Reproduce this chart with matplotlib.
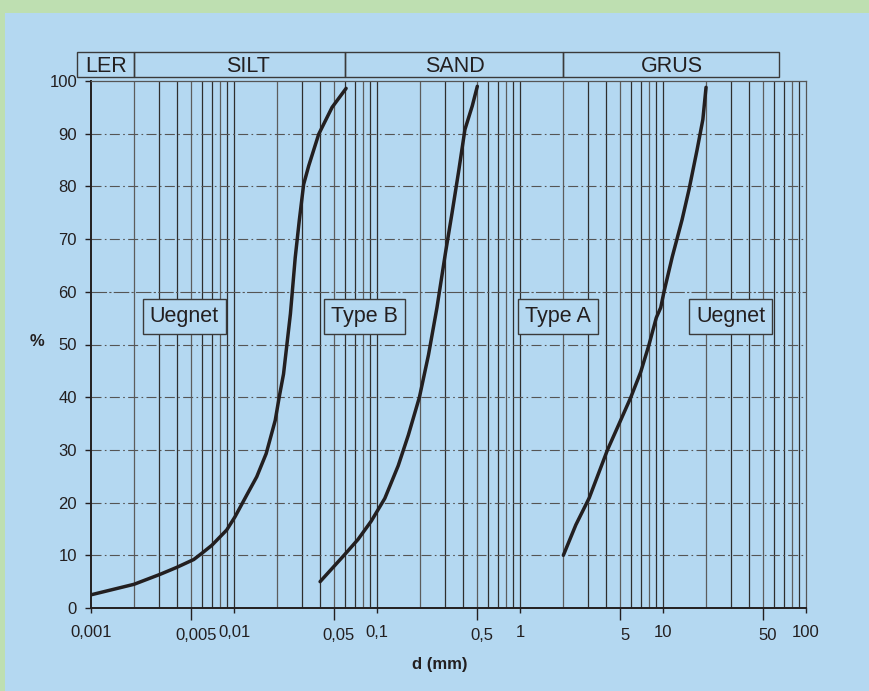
import matplotlib
matplotlib.use("Agg")
import matplotlib.pyplot as plt
from matplotlib.patches import Rectangle
from matplotlib.transforms import ScaledTranslation, blended_transform_factory

plt.rcParams['font.family'] = ['Liberation Sans', 'DejaVu Sans']

# grain size curves, d in mm, passing in %
d_fine = [0.001, 0.002, 0.00305, 0.00397, 0.00523, 0.00597, 0.0070, 0.00889, 0.01016,
          0.01226, 0.01442, 0.01679, 0.01942, 0.0207, 0.0222, 0.0248, 0.0268, 0.0286,
          0.0307, 0.0333, 0.0391, 0.0485, 0.0608]
p_fine = [2.5, 4.5, 6.4, 7.7, 9.2, 10.4, 11.9, 14.8, 17.3, 21.4, 24.9, 29.3, 35.6, 40.0,
          44.4, 55.8, 66.5, 73.5, 80.4, 83.9, 89.9, 95.0, 98.6]

d_mid = [0.04, 0.0588, 0.0736, 0.0912, 0.1134, 0.1407, 0.1656, 0.198, 0.229, 0.2626,
         0.3008, 0.335, 0.3735, 0.412, 0.464, 0.503]
p_mid = [5.0, 10.0, 13.0, 16.5, 20.8, 27.0, 32.8, 40.0, 48.0, 57.0, 67.3, 75.0, 83.1,
         90.8, 95.3, 99.0]

d_coarse = [2.01, 2.46, 3.05, 4.09, 4.94, 5.96, 6.99, 7.99, 8.98, 9.64, 10.16, 11.6,
            13.6, 15.2, 17.3, 19.0, 20.0]
p_coarse = [10.0, 15.8, 20.9, 30.0, 35.0, 40.0, 44.8, 50.0, 55.1, 57.0, 60.0, 66.6,
            73.7, 79.4, 86.9, 92.7, 98.8]

# zone labels in the plot
zone_names = ['Uegnet', 'Type B', 'Type A', 'Uegnet']
zone_x = [0.0045, 0.082, 1.85, 29.8]
zone_y = 55.3

# soil classes above the plot
class_names = ['LER', 'SILT', 'SAND', 'GRUS']
class_edges = [0.0008, 0.002, 0.06, 2, 65]
class_text_x = [0.00127, 0.0125, 0.35, 11.5]

dec_ticks = [0.001, 0.01, 0.1, 1, 10, 100]
dec_labels = ['0,001', '0,01', '0,1', '1', '10', '100']
five_ticks = [0.005, 0.05, 0.5, 5, 50]
five_labels = ['0,005', '0,05', '0,5', '5', '50']

bg = '#b4d8f1'
green = '#bedfb1'
ink = '#231f20'

fig = plt.figure(figsize=(8.7, 6.91), dpi=100, facecolor=bg)
fig.patches.append(Rectangle((0, 1 - 13 / 691), 1, 13 / 691, transform=fig.transFigure,
                             fc=green, ec='none', zorder=-5))
fig.patches.append(Rectangle((0, 0), 5 / 870, 1, transform=fig.transFigure,
                             fc=green, ec='none', zorder=-5))

ax = fig.add_axes([91 / 870, 1 - 608 / 691, 715 / 870, 527 / 691])
ax.set_facecolor(bg)
ax.set_xscale('log')
ax.set_xlim(0.001, 100)
ax.set_ylim(0, 100)

# grid
grid_x = [m * 10.0 ** e for e in range(-3, 2) for m in range(1, 10)][1:]
for i, gx in enumerate(grid_x):
    ax.axvline(gx, color='#2e2e2e' if i % 3 else '#5c5c5c', lw=0.9, zorder=1)
for gy in range(10, 100, 10):
    ls = (0, (14, 2, 2, 2)) if gy == 60 else (0, (9, 3, 1.5, 3))
    ax.axhline(gy, color='#555555', lw=0.8, ls=ls, zorder=1)

for dx, py in [(d_fine, p_fine), (d_mid, p_mid), (d_coarse, p_coarse)]:
    ax.plot(dx, py, color=ink, lw=2.5, zorder=4, solid_joinstyle='round',
            solid_capstyle='round')

for name, zx in zip(zone_names, zone_x):
    ax.text(zx, zone_y, name, ha='center', va='center', fontsize=15.5, color=ink, zorder=5,
            bbox=dict(boxstyle='square,pad=0.33', fc=bg, ec='#3a3a3a', lw=1))

# class header boxes
trans = blended_transform_factory(ax.transData, ax.transAxes)
y0, y1 = 1.007, 1.0555
for i, name in enumerate(class_names):
    ax.add_patch(Rectangle((class_edges[i], y0), class_edges[i + 1] - class_edges[i], y1 - y0,
                           transform=trans, fc='none', ec='#3a3a3a', lw=1, clip_on=False))
    ax.text(class_text_x[i], (y0 + y1) / 2 - 0.003, name, transform=trans, ha='center',
            va='center', fontsize=15.5, color=ink)

# spines and ticks
for s in ['left', 'bottom']:
    ax.spines[s].set_color(ink)
    ax.spines[s].set_linewidth(1.4)
for s in ['top', 'right']:
    ax.spines[s].set_color('#555555')
    ax.spines[s].set_linewidth(0.9)

ax.set_yticks(range(0, 101, 10))
ax.tick_params(axis='y', length=4, width=1, pad=6, labelsize=12, colors=ink)
ax.set_xticks(dec_ticks, dec_labels)
ax.set_xticks(five_ticks, five_labels, minor=True)
ax.tick_params(axis='x', which='major', length=3.5, width=1, pad=9, labelsize=12, colors=ink)
ax.tick_params(axis='x', which='minor', length=8.5, width=1, pad=6, labelsize=12, colors=ink)
for lab in ax.xaxis.get_minorticklabels():
    lab.set_transform(lab.get_transform() + ScaledTranslation(5 / 100, 0, fig.dpi_scale_trans))

ax.text(-0.075, 0.505, '%', transform=ax.transAxes, ha='center', va='center',
        fontsize=12, fontweight='bold', color=ink)
fig.text(440 / 870, 1 - 665 / 691, 'd (mm)', ha='center', va='center',
         fontsize=12, fontweight='bold', color=ink)

fig.savefig('out.png', dpi=100, facecolor=bg)
